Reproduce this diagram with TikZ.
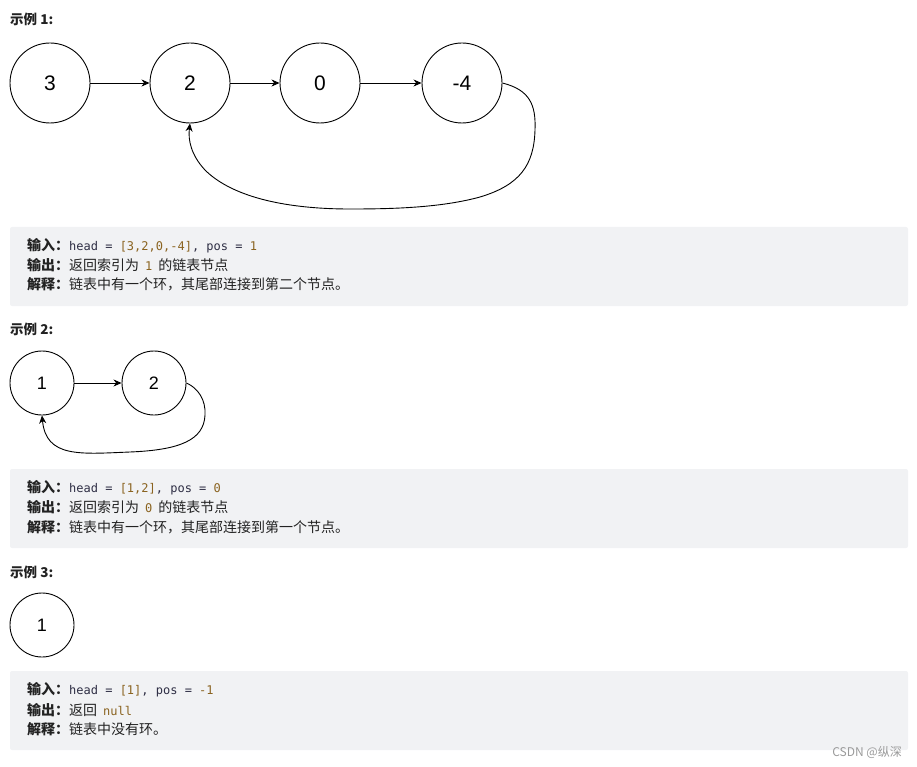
\documentclass[tikz,border=0pt]{standalone}
\usepackage{fontspec}
\setmainfont{Liberation Sans}
\newfontfamily\cjk{Noto Sans CJK SC}
\newfontfamily\code{DejaVu Sans Mono}
\usetikzlibrary{arrows.meta}
\definecolor{boxgray}{HTML}{F1F2F4}
\definecolor{txt}{HTML}{222222}
\definecolor{lit}{HTML}{8A6320}
\definecolor{ident}{HTML}{2E2E44}
\definecolor{wm}{HTML}{9A9A9A}
\tikzset{
  nodebig/.style={circle,draw=black,line width=0.9pt,minimum size=80pt,inner sep=0pt,font=\fontsize{21}{21}\selectfont},
  nodesmall/.style={circle,draw=black,line width=0.9pt,minimum size=64pt,inner sep=0pt,font=\fontsize{18}{18}\selectfont},
  link/.style={line width=0.9pt,-{Stealth[length=8pt,width=7pt,inset=2.5pt]}},
  codebox/.style={fill=boxgray,rounded corners=2pt,draw=none},
  title/.style={anchor=west,inner sep=0pt,text=txt,font=\cjk\bfseries\fontsize{13.5}{15}\selectfont},
  line/.style={anchor=west,inner sep=0pt,text=txt,font=\cjk\fontsize{14}{16}\selectfont},
  wmark/.style={anchor=east,inner sep=0pt,text=wm,font=\cjk\fontsize{12}{14}\selectfont}
}
\newcommand{\lab}[1]{{\bfseries #1}}
\newcommand{\cd}[1]{{\code\fontsize{12}{14}\selectfont #1}}
\newcommand{\gap}{\hspace{6pt}}
\begin{document}
\begin{tikzpicture}[x=1pt,y=-1pt]
\useasboundingbox (0,0) rectangle (917,767);
% ---------- Example 1
\node[title] (t1) at (10,19) {示例 1:};
\node[nodebig] (a3) at (50,83) {3};
\node[nodebig] (a2) at (190,83) {2};
\node[nodebig] (a0) at (320,83) {0};
\node[nodebig] (am) at (462,83) {-4};
\draw[link] (a3) -- (a2);
\draw[link] (a2) -- (a0);
\draw[link] (a0) -- (am);
\draw[link] (am.east) .. controls (530,90) and (536,105) .. (535,130)
  .. controls (534,165) and (520,185) .. (480,197)
  .. controls (440,208) and (390,209) .. (350,209)
  .. controls (280,209) and (230,195) .. (205,170)
  .. controls (191,155) and (188,140) .. (a2.south);
\fill[codebox] (10,227) rectangle (908,306);
\node[line] (l11) at (27,246) {\lab{输入：}\cd{\color{ident}head = \color{lit}[3,2,0,-4]\color{ident}, pos = \color{lit}1}};
\node[line] (l12) at (27,265) {\lab{输出：}返回索引为\gap\cd{\color{lit}1}\gap 的链表节点};
\node[line] (l13) at (27,284) {\lab{解释：}链表中有一个环，其尾部连接到第二个节点。};
% ---------- Example 2
\node[title] (t2) at (10,329) {示例 2:};
\node[nodesmall] (b1) at (42,383) {1};
\node[nodesmall] (b2) at (154,383) {2};
\draw[link] (b1) -- (b2);
\draw[link] (b2.east) .. controls (198,388) and (206,400) .. (205,415)
  .. controls (204,440) and (180,450) .. (130,452)
  .. controls (80,454) and (46,458) .. (b1.south);
\fill[codebox] (10,469) rectangle (908,548);
\node[line] (l21) at (27,488) {\lab{输入：}\cd{\color{ident}head = \color{lit}[1,2]\color{ident}, pos = \color{lit}0}};
\node[line] (l22) at (27,507) {\lab{输出：}返回索引为\gap\cd{\color{lit}0}\gap 的链表节点};
\node[line] (l23) at (27,527) {\lab{解释：}链表中有一个环，其尾部连接到第一个节点。};
% ---------- Example 3
\node[title] (t3) at (10,572) {示例 3:};
\node[nodesmall] (c1) at (42,625) {1};
\fill[codebox] (10,671) rectangle (908,750);
\node[line] (l31) at (27,690) {\lab{输入：}\cd{\color{ident}head = \color{lit}[1]\color{ident}, pos = \color{lit}-1}};
\node[line] (l32) at (27,710) {\lab{输出：}返回\gap\cd{\color{lit}null}};
\node[line] (l33) at (27,729) {\lab{解释：}链表中没有环。};
\node[wmark] (wm) at (902,752) {CSDN @纵深};
\end{tikzpicture}
\end{document}
